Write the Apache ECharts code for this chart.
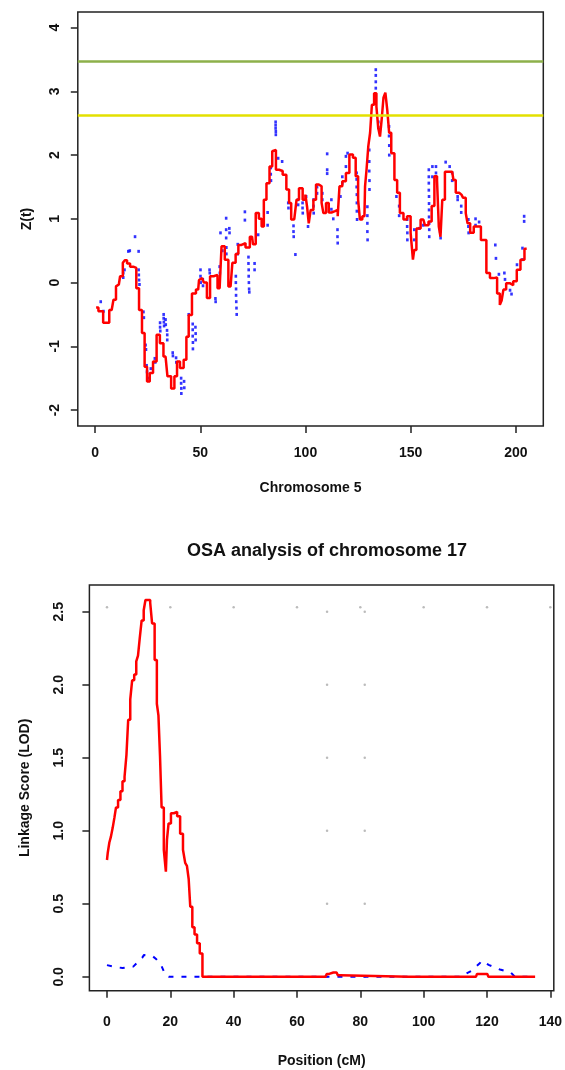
<!DOCTYPE html>
<html>
<head>
<meta charset="utf-8">
<script src="https://cdn.jsdelivr.net/npm/echarts@6/dist/echarts.min.js"></script>
<style>
html,body{margin:0;padding:0;background:#fff;}
#chart{width:565px;height:1070px;}
</style>
</head>
<body>
<div id="chart"></div>
<script>
// ---------- Top chart: Chromosome 5, Z(t) ----------
const chr5Ticks = [0, 50, 100, 150, 200];
const zTicks = [-2, -1, 0, 1, 2, 3, 4];
const thresholds = [3.47, 2.62];

const chr5Pos = [0.5,2.7,5.0,5.6,7.9,9.6,10.3,11.3,12.5,13.9,14.4,16,17.3,19.0,20.2,21.6,23.0,24.1,25.3,26.7,28.4,30.1,31.5,33.5,35.3,37.0,38.4,39.5,41.2,43.0,43.8,45.2,46.9,49.0,49.8,50.9,52.5,53.8,55.5,57.2,59.2,61.0,62.3,64.4,66.1,67.5,68.7,70.5,72.5,74.6,75.5,77.2,78.5,79.8,80.6,82.3,83.5,84.9,85.3,86.6,88.3,90.0,91.8,92.6,93.8,95.5,96.0,97.8,99.5,100.4,101.1,102.0,102.9,104.6,105.4,107.2,108.1,108.9,110.6,111.5,113.2,114.9,115.7,116.6,118.4,120.0,121.7,123.4,124.3,125.7,126.0,128.0,128.6,129.4,130.3,131.1,132.0,133.2,134.2,134.9,135.9,136.5,137.6,138.3,139.4,140.1,141.4,143.1,144.0,145.7,147.4,149.1,150.8,151.3,152.0,153.4,156.0,157.5,159.4,160.5,162.0,163.0,163.7,164.6,165.4,167.1,169.7,170.9,171.9,174.1,175.7,176.6,177.4,179.1,180.8,182.5,184.2,185.1,186.8,188.5,190.2,191.9,192.8,193.6,194.5,196.2,197.9,199.5,201.3,203.0,205.1];
const chr5Z = [-0.39,-0.45,-0.63,-0.63,-0.43,-0.27,-0.06,-0.03,0.1,0.31,0.35,0.3,0.25,0.23,-0.09,-0.43,-0.79,-1.32,-1.55,-1.42,-1.24,-0.82,-0.95,-1.16,-1.47,-1.66,-1.47,-1.24,-1.34,-1.21,-0.85,-0.51,-0.17,-0.11,0.04,0.07,0.0,-0.24,0.10,0.12,-0.09,0.57,0.36,-0.06,0.31,0.45,0.59,0.62,0.55,0.72,0.6,1.09,1.0,0.88,1.30,1.56,1.82,2.06,2.08,1.77,1.75,1.69,1.46,1.25,0.99,0.96,1.30,1.48,1.30,1.38,1.19,0.93,1.14,1.30,1.54,1.51,1.25,1.09,1.25,1.1,1.12,1.14,1.04,1.51,1.59,1.72,2.01,1.96,1.67,1.30,0.99,1.04,1.51,1.77,2.14,2.35,2.79,2.97,2.76,2.43,2.29,2.56,2.90,2.98,2.71,2.35,2.03,1.61,1.41,1.09,0.99,1.04,0.78,0.36,0.51,0.85,0.99,0.9,0.96,1.2,1.67,1.6,0.88,0.72,1.30,1.74,1.74,1.61,1.41,1.38,1.33,1.09,0.93,0.78,0.88,0.88,0.67,0.67,0.15,0.07,0.08,-0.17,-0.35,-0.28,-0.11,-0.01,-0.04,0.02,0.2,0.36,0.53];

const markerX = [2.7,4.0,13.4,13.4,14.0,15.8,16.5,19.0,20.7,20.7,20.8,20.9,21.1,23.0,23.2,24.0,24.2,24.5,24.7,25.0,26.5,28.4,28.6,30.9,30.9,31.0,32.6,32.6,32.7,32.8,33.5,33.6,34.2,34.3,34.3,36.9,37.0,38.5,38.6,40.9,40.9,41.0,41.0,42.3,42.4,44.5,46.4,46.4,46.4,46.5,46.5,47.7,47.8,47.8,50.1,50.1,50.2,51.2,51.3,54.4,54.5,57.2,57.3,59.2,59.3,59.6,60.5,62.3,62.3,62.3,62.4,62.4,63.8,63.9,66.9,66.9,67.0,67.0,67.1,67.2,67.3,67.8,67.8,71.2,71.2,72.9,72.9,73.0,73.0,73.1,73.2,73.3,75.8,75.8,77.5,82.0,82.0,83.5,83.5,83.6,85.8,85.8,85.8,85.9,85.9,87.0,88.9,91.8,91.9,94.3,94.3,94.4,95.2,96.5,96.5,98.6,98.6,98.7,100.3,101.2,103.8,103.8,103.9,105.5,105.5,108.0,108.0,110.3,110.3,110.3,112.3,112.3,113.2,115.2,115.2,115.3,116.6,117.5,117.5,119.2,119.2,120.0,124.3,124.3,124.3,124.4,124.4,124.4,124.5,129.4,129.4,129.4,129.4,129.5,130.3,130.3,130.3,130.4,130.4,133.4,133.4,133.4,133.4,134.6,134.6,139.7,139.7,139.8,139.8,143.2,144.5,144.5,148.3,148.3,148.4,148.4,151.7,151.7,154.0,156.0,158.6,158.6,158.6,158.6,158.7,158.7,158.7,158.7,158.8,158.8,158.8,160.3,160.3,162.0,162.0,164.0,164.2,166.6,168.5,169.7,169.7,172.3,172.3,174.0,174.0,177.4,177.4,177.5,180.8,180.8,182.5,190.2,190.5,191.9,194.5,194.8,197.2,197.9,200.5,203.1,203.1,203.9,203.9];
const markerZ = [-0.30,-0.45,0.15,0.08,0.20,0.49,0.50,0.72,0.49,0.20,0.12,0.04,-0.03,-0.46,-0.55,-0.98,-1.05,-1.30,-1.40,-1.50,-1.35,-1.19,-1.25,-0.63,-0.70,-0.76,-0.50,-0.56,-0.62,-0.68,-0.58,-0.66,-0.75,-0.82,-0.90,-1.10,-1.15,-1.18,-1.25,-1.50,-1.58,-1.66,-1.74,-1.55,-1.65,-0.50,-0.65,-0.74,-0.84,-0.94,-1.04,-0.70,-0.80,-0.90,0.20,0.10,0.00,0.05,-0.05,0.20,0.15,-0.25,-0.30,0.25,0.15,0.78,0.50,1.01,0.83,0.70,0.55,0.45,0.85,0.78,0.10,0.00,-0.10,-0.20,-0.30,-0.40,-0.50,0.60,0.45,1.11,0.98,0.40,0.30,0.20,0.10,0.00,-0.10,-0.15,0.30,0.20,0.75,1.10,0.90,1.80,1.70,1.60,2.52,2.47,2.42,2.37,2.32,1.95,1.90,1.25,1.17,0.89,0.80,0.72,0.44,1.30,1.22,1.25,1.17,1.09,1.35,0.88,1.30,1.20,1.09,1.50,1.40,1.40,1.30,2.02,1.77,1.71,1.30,1.15,1.00,0.83,0.72,0.62,1.35,1.66,1.56,1.98,1.82,2.03,1.72,1.62,1.50,1.38,1.25,1.12,0.99,1.19,1.05,0.93,0.80,0.67,2.08,1.90,1.75,1.60,1.46,3.34,3.25,3.15,3.05,2.52,2.43,2.45,2.30,2.15,2.00,1.35,1.20,1.05,0.99,0.88,0.78,0.67,0.83,0.67,0.85,0.90,1.77,1.66,1.56,1.45,1.35,1.24,1.14,1.03,0.93,0.83,0.72,1.82,1.66,1.82,1.72,0.80,0.70,1.89,1.82,1.72,1.60,1.35,1.30,1.20,1.10,0.99,0.88,0.78,1.00,0.90,0.95,0.59,0.38,0.13,0.15,0.05,-0.12,-0.18,0.28,0.36,0.54,1.04,0.96];

// ---------- Bottom chart: OSA analysis of chromosome 17 ----------
const posTicks = [0, 20, 40, 60, 80, 100, 120, 140];
const lodTicks = [0, 0.5, 1, 1.5, 2, 2.5];

const lodPos = [0,0.5,1.0,1.5,2.1,2.6,3.1,3.9,4.6,5.2,5.9,6.4,7.0,7.7,8.2,9.0,9.5,10.1,10.6,11.3,11.9,12.4,13.4,13.9,14.6,15.5,16.0,16.5,17.0,17.5,18.4,18.8,19.1,19.8,20.6,21.6,22.7,23.5,24.5,24.9,25.6,26.0,26.6,27.3,28.0,28.9,29.7,30.6,31.2,69,69.8,70.5,72.5,73.3,74,116.5,117.2,120.1,120.8,135.2];
const lodOSA = [0.80,0.85,0.92,0.96,1.02,1.09,1.16,1.21,1.27,1.34,1.37,1.52,1.76,1.90,2.03,2.07,2.16,2.20,2.32,2.44,2.51,2.58,2.58,2.56,2.42,2.17,1.87,1.79,1.51,1.16,0.87,0.72,0.94,1.05,1.12,1.13,1.10,0.98,0.87,0.78,0.76,0.67,0.48,0.34,0.29,0.23,0.16,0.0,0,0,0.02,0.03,0.03,0.01,0,0,0.02,0.02,0,0];

const basePos = [0,2,4.9,8.3,11.1,11.7,14.5,15.6,17.1,18.5,19.6,111.6,115.0,117.8,118.3,120.7,124.1,127.5,128.8,135.2];
const lodBase = [0.08,0.07,0.06,0.07,0.13,0.15,0.14,0.12,0.08,0.01,0,0,0.04,0.095,0.11,0.08,0.05,0.03,0,0];

const greyX = [0,20,40,60,80,100,120,140,69.5,81.4,69.5,81.4,69.5,81.4,69.5,81.4,69.5,81.4,69.5,81.4];
const greyY = [2.53,2.53,2.53,2.53,2.53,2.53,2.53,2.53,2.5,2.5,2.0,2.0,1.5,1.5,1.0,1.0,0.5,0.5,0,0];

const zip = (xs, ys) => xs.map((x, i) => [x, ys[i]]);

const FONT = '"Liberation Sans", Arial, Helvetica, sans-serif';
const txt = {fontFamily: FONT, fontSize: 14, fontWeight: 'bold', color: '#111'};
const tickStyle = {color: '#222', width: 1.5};

function xAx(grid, min, max, ticks, name, margin, gap) {
  return {
    type: 'value', gridIndex: grid, min: min, max: max, position: 'bottom',
    axisLine: {show: false, onZero: false}, splitLine: {show: false},
    axisTick: {show: true, inside: false, customValues: ticks, length: 7, lineStyle: tickStyle},
    axisLabel: Object.assign({customValues: ticks, margin: margin}, txt),
    name: name, nameLocation: 'middle', nameGap: gap, nameTextStyle: txt
  };
}
function yAx(grid, min, max, ticks, name, margin, gap, fmt) {
  return {
    type: 'value', gridIndex: grid, min: min, max: max, position: 'left',
    axisLine: {show: false, onZero: false}, splitLine: {show: false},
    axisTick: {show: true, inside: false, customValues: ticks, length: 7, lineStyle: tickStyle},
    axisLabel: Object.assign({customValues: ticks, margin: margin, rotate: 90, formatter: fmt}, txt),
    name: name, nameLocation: 'middle', nameRotate: 90, nameGap: gap, nameTextStyle: txt
  };
}

const chart = echarts.init(document.getElementById('chart'), null, {renderer: 'canvas'});
chart.setOption({
  animation: false,
  backgroundColor: '#fff',
  title: {
    text: 'OSA analysis of chromosome 17',
    left: 322, top: 537, textAlign: 'center',
    textStyle: {fontFamily: FONT, fontSize: 18, fontWeight: 'bold', color: '#111'}
  },
  grid: [
    {left: 77.8, top: 12, width: 465.5, height: 414, show: true, borderColor: '#222', borderWidth: 1.5, backgroundColor: 'transparent', containLabel: false},
    {left: 89.4, top: 585, width: 465.5, height: 405.7, show: true, borderColor: '#222', borderWidth: 1.5, backgroundColor: 'transparent', containLabel: false}
  ],
  xAxis: [
    xAx(0, -8.2, 213.0, chr5Ticks, 'Chromosome 5', 20, 55),
    xAx(1, -5.55, 141.1, posTicks, 'Position (cM)', 24, 63)
  ],
  yAxis: [
    yAx(0, -2.25, 4.245, zTicks, 'Z(t)', 16, 44, v => String(v)),
    yAx(1, -0.095, 2.683, lodTicks, 'Linkage Score (LOD)', 23, 57, v => v.toFixed(1))
  ],
  series: [
    {
      type: 'line', xAxisIndex: 0, yAxisIndex: 0, data: [], silent: true,
      markLine: {
        symbol: 'none', silent: true, label: {show: false},
        data: [
          {yAxis: thresholds[0], lineStyle: {color: '#8db04a', width: 2.5, type: 'solid'}},
          {yAxis: thresholds[1], lineStyle: {color: '#e3e000', width: 2.5, type: 'solid'}}
        ]
      }
    },
    {
      type: 'line', xAxisIndex: 0, yAxisIndex: 0, data: zip(chr5Pos, chr5Z),
      step: 'middle', showSymbol: false, symbol: 'none',
      lineStyle: {color: '#ff0000', width: 2.5}
    },
    {
      type: 'scatter', xAxisIndex: 0, yAxisIndex: 0, data: zip(markerX, markerZ),
      symbol: 'rect', symbolSize: [2.6, 3], itemStyle: {color: '#0000ff'}
    },
    {
      type: 'scatter', xAxisIndex: 1, yAxisIndex: 1, data: zip(greyX, greyY),
      symbol: 'circle', symbolSize: 2.5, itemStyle: {color: '#aaaaaa'}
    },
    {
      type: 'line', xAxisIndex: 1, yAxisIndex: 1, data: zip(basePos, lodBase),
      showSymbol: false, symbol: 'none',
      lineStyle: {color: '#0000ff', width: 2, type: [5, 8]}
    },
    {
      type: 'line', xAxisIndex: 1, yAxisIndex: 1, data: zip(lodPos, lodOSA),
      step: 'middle', showSymbol: false, symbol: 'none',
      lineStyle: {color: '#ff0000', width: 2.5}
    }
  ]
});
</script>
</body>
</html>
